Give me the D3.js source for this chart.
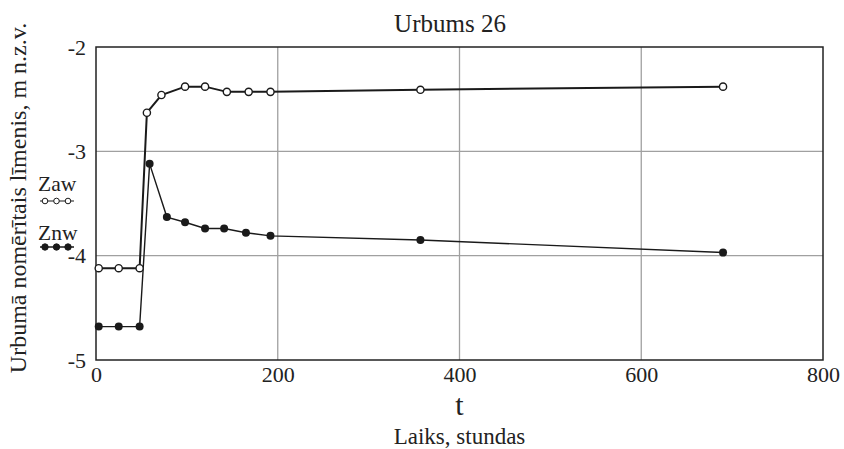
<!DOCTYPE html>
<html><head><meta charset="utf-8">
<script src="https://cdn.jsdelivr.net/npm/d3@7"></script>
</head><body style="margin:0;background:#fff"><svg id="c" width="844" height="449"></svg>
<script>
const title = "Urbums 26";
const xLabel = "t";
const xSubLabel = "Laiks, stundas";
const yLabel = "Urbumā nomērītais līmenis, m n.z.v.";
const xTicks = [0, 200, 400, 600, 800];
const yTicks = [-2, -3, -4, -5];
const zawTime = [3, 25, 48, 56, 72, 98, 120, 144, 168, 192, 357, 690];
const zawValue = [-4.12, -4.12, -4.12, -2.63, -2.46, -2.38, -2.38, -2.43, -2.43, -2.43, -2.41, -2.38];
const znwTime = [3, 25, 48, 59, 78, 98, 120, 141, 165, 192, 357, 690];
const znwValue = [-4.68, -4.68, -4.68, -3.12, -3.63, -3.68, -3.74, -3.74, -3.78, -3.81, -3.85, -3.97];

const FONT = "Liberation Serif";
const svg = d3.select("#c");
const L = 96, R = 823, T = 47, B = 360;
const x = d3.scaleLinear().domain([0, 800]).range([L, R]);
const y = d3.scaleLinear().domain([-5, -2]).range([B, T]);

svg.append("g").selectAll("line").data(xTicks.slice(1, -1)).join("line")
  .attr("x1", d => x(d)).attr("x2", d => x(d)).attr("y1", T).attr("y2", B)
  .attr("stroke", "#a0a0a0").attr("stroke-width", 1.3);
svg.append("g").selectAll("line").data(yTicks.slice(1, -1)).join("line")
  .attr("y1", d => y(d)).attr("y2", d => y(d)).attr("x1", L).attr("x2", R)
  .attr("stroke", "#a0a0a0").attr("stroke-width", 1.3);
svg.append("rect").attr("x", L).attr("y", T).attr("width", R - L).attr("height", B - T)
  .attr("fill", "none").attr("stroke", "#222").attr("stroke-width", 1.5);

const xa = svg.append("g").attr("transform", `translate(0,${B})`)
  .call(d3.axisBottom(x).tickValues(xTicks).tickSize(0).tickPadding(6).tickFormat(d3.format("d")))
  .attr("font-family", FONT).attr("font-size", 22);
xa.select(".domain").remove();
xa.selectAll("text").attr("fill", "#222");
const ya = svg.append("g").attr("transform", `translate(${L},0)`)
  .call(d3.axisLeft(y).tickValues(yTicks).tickSize(0).tickPadding(10).tickFormat(d => String(d).replace("−", "-")))
  .attr("font-family", FONT).attr("font-size", 22);
ya.select(".domain").remove();
ya.selectAll("text").attr("fill", "#222");

const zaw = zawTime.map((t, i) => [t, zawValue[i]]);
const znw = znwTime.map((t, i) => [t, znwValue[i]]);
const line = d3.line().x(d => x(d[0])).y(d => y(d[1]));
svg.append("path").datum(znw).attr("d", line).attr("fill", "none").attr("stroke", "#1a1a1a").attr("stroke-width", 1.4);
svg.append("path").datum(zaw).attr("d", line).attr("fill", "none").attr("stroke", "#1a1a1a").attr("stroke-width", 2);
svg.append("g").selectAll("circle").data(znw).join("circle")
  .attr("cx", d => x(d[0])).attr("cy", d => y(d[1])).attr("r", 4).attr("fill", "#1a1a1a");
svg.append("g").selectAll("circle").data(zaw).join("circle")
  .attr("cx", d => x(d[0])).attr("cy", d => y(d[1])).attr("r", 3.6).attr("fill", "#fff")
  .attr("stroke", "#1a1a1a").attr("stroke-width", 1.4);

function txt(xp, yp, s, size, anchor) {
  return svg.append("text").attr("x", xp).attr("y", yp).attr("text-anchor", anchor || "start")
    .attr("font-family", FONT).attr("font-size", size).attr("fill", "#222").text(s);
}
function legend(name, ty, sy, filled) {
  txt(38, ty, name, 21.5);
  svg.append("line").attr("x1", 40).attr("x2", 74).attr("y1", sy).attr("y2", sy)
    .attr("stroke", "#1a1a1a").attr("stroke-width", filled ? 1.6 : 1.2);
  svg.append("g").selectAll("circle").data([45, 56.5, 68]).join("circle")
    .attr("cx", d => d).attr("cy", sy).attr("r", filled ? 3.2 : 2.8)
    .attr("fill", filled ? "#1a1a1a" : "#fff").attr("stroke", "#1a1a1a").attr("stroke-width", 1);
}
legend("Zaw", 191, 201, false);
legend("Znw", 240, 247, true);

const cx = (L + R) / 2;
txt(450, 32, title, 25, "middle");
txt(cx, 415, xLabel, 30, "middle");
txt(cx, 444, xSubLabel, 23, "middle");
txt(0, 0, yLabel, 24, "middle").attr("transform", "translate(26,198) rotate(-90)");
</script></body></html>
